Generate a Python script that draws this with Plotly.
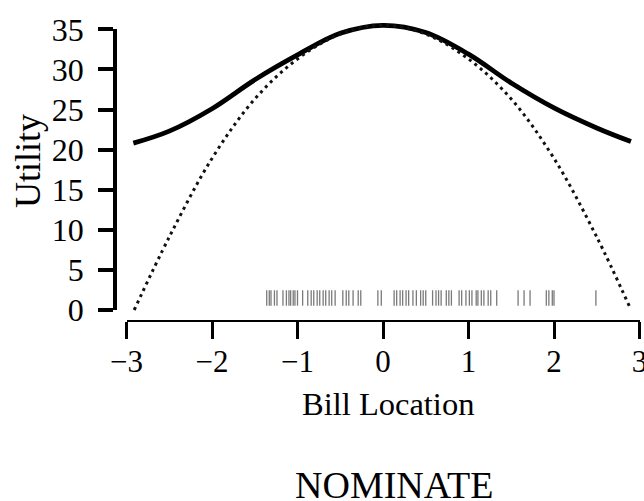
import plotly.graph_objects as go

# Solid utility curve
solid_x = [-2.92, -2.5, -2.0, -1.5, -1.0, -0.5, 0.0, 0.5, 1.0, 1.5, 2.0, 2.5, 2.9]
solid_y = [20.8, 22.3, 25.1, 28.7, 31.8, 34.5, 35.5, 34.6, 31.9, 28.3, 25.2, 22.7, 21.0]

# Dotted (quadratic) utility curve
dot_x = [-2.91, -2.5, -2.0, -1.5, -1.0, -0.5, 0.0, 0.5, 1.0, 1.5, 2.0, 2.5, 2.88]
dot_y = [0.0, 9.1, 18.9, 26.3, 31.3, 34.4, 35.5, 34.4, 31.3, 26.3, 18.9, 9.1, 0.5]

# Bill locations (rug)
bill_locations = [
    -1.36, -1.33, -1.31, -1.27, -1.24, -1.17, -1.13, -1.10, -1.08, -1.05, -1.03, -1.00,
    -0.94, -0.88, -0.84, -0.81, -0.77, -0.74, -0.70, -0.67, -0.63, -0.60, -0.56,
    -0.47, -0.43, -0.40, -0.35, -0.29, -0.26, -0.06, -0.02,
    0.13, 0.16, 0.20, 0.23, 0.27, 0.30, 0.35, 0.39, 0.44, 0.47, 0.50,
    0.58, 0.62, 0.65, 0.68, 0.74, 0.77, 0.80, 0.89, 0.92, 0.97,
    1.01, 1.04, 1.09, 1.11, 1.15, 1.18, 1.23, 1.26, 1.33,
    1.58, 1.65, 1.72, 1.91, 1.94, 1.98, 2.00, 2.49,
]
rug_level = 1.5

x_ticks = [-3, -2, -1, 0, 1, 2, 3]
x_ticktext = ["\u22123", "\u22122", "\u22121", "0", "1", "2", "3"]
y_ticks = [0, 5, 10, 15, 20, 25, 30, 35]

W, H = 644, 501
FONT = "Liberation Serif"

def px_x(p):
    return p / W

def px_y(p):
    return 1 - p / H

# pixel geometry
y0_px, y35_px = 310.0, 29.3
slope = (y0_px - y35_px) / 35.0
xline_px, top_px = 320.0, 12.0
y_lo = -(xline_px - y0_px) / slope
y_hi = 35 + (y35_px - top_px) / slope

fig = go.Figure()

fig.add_trace(go.Scatter(
    x=solid_x, y=solid_y, mode="lines", line=dict(color="black", width=4.8, shape="spline"),
    xaxis="x", yaxis="y", showlegend=False, hoverinfo="skip",
))
fig.add_trace(go.Scatter(
    x=dot_x, y=dot_y, mode="lines",
    line=dict(color="#111", width=3, dash="3px,4px", shape="spline"),
    xaxis="x", yaxis="y", showlegend=False, hoverinfo="skip",
))
fig.add_trace(go.Scatter(
    x=bill_locations, y=[rug_level] * len(bill_locations), mode="markers",
    marker=dict(symbol="line-ns", size=11, line=dict(color="#7a7a7a", width=1.3)),
    xaxis="x", yaxis="y2", showlegend=False, hoverinfo="skip",
))

fig.update_layout(
    template="none",
    width=W, height=H,
    margin=dict(l=0, r=0, t=0, b=0, autoexpand=False),
    paper_bgcolor="white", plot_bgcolor="rgba(0,0,0,0)",
    font=dict(family=FONT, color="black"),
    xaxis=dict(
        domain=[px_x(126.5), px_x(639.5)], range=[-3, 3], anchor="y",
        automargin=False, ticklabeloverflow="allow",
        showline=True, linecolor="black", linewidth=2,
        ticks="outside", ticklen=17, tickwidth=3, tickcolor="black",
        tickvals=x_ticks, ticktext=x_ticktext,
        tickfont=dict(family=FONT, size=31, color="black"),
        ticklabelstandoff=-4,
        showgrid=False, zeroline=False,
    ),
    yaxis=dict(
        domain=[px_y(xline_px), px_y(top_px)], range=[y_lo, y_hi],
        automargin=False,
        showline=False, showticklabels=False, ticks="", showgrid=False, zeroline=False,
    ),
    yaxis2=dict(
        domain=[px_y(y0_px), px_y(y35_px)], range=[0, 35], anchor="free",
        position=px_x(115), side="left", automargin=False,
        showline=True, linecolor="black", linewidth=3.5,
        ticks="outside", ticklen=15, tickwidth=3.5, tickcolor="black",
        tickvals=y_ticks,
        tickfont=dict(family=FONT, size=32, color="black"),
        ticklabelstandoff=8,
        showgrid=False, zeroline=False,
    ),
    annotations=[
        dict(text="Utility", textangle=-90, x=px_x(28), y=px_y(161), xref="paper", yref="paper",
             xanchor="center", yanchor="middle", showarrow=False,
             font=dict(family=FONT, size=36, color="black")),
        dict(text="Bill Location", x=px_x(388), y=px_y(404), xref="paper", yref="paper",
             xanchor="center", yanchor="middle", showarrow=False,
             font=dict(family=FONT, size=32.5, color="black")),
        dict(text="NOMINATE", x=px_x(394), y=px_y(485), xref="paper", yref="paper",
             xanchor="center", yanchor="middle", showarrow=False,
             font=dict(family=FONT, size=38, color="black")),
    ],
)

fig.write_html(
    "out.html",
    config={"displayModeBar": False},
    post_script="document.body.style.margin='0px';document.body.style.overflow='hidden';",
)
